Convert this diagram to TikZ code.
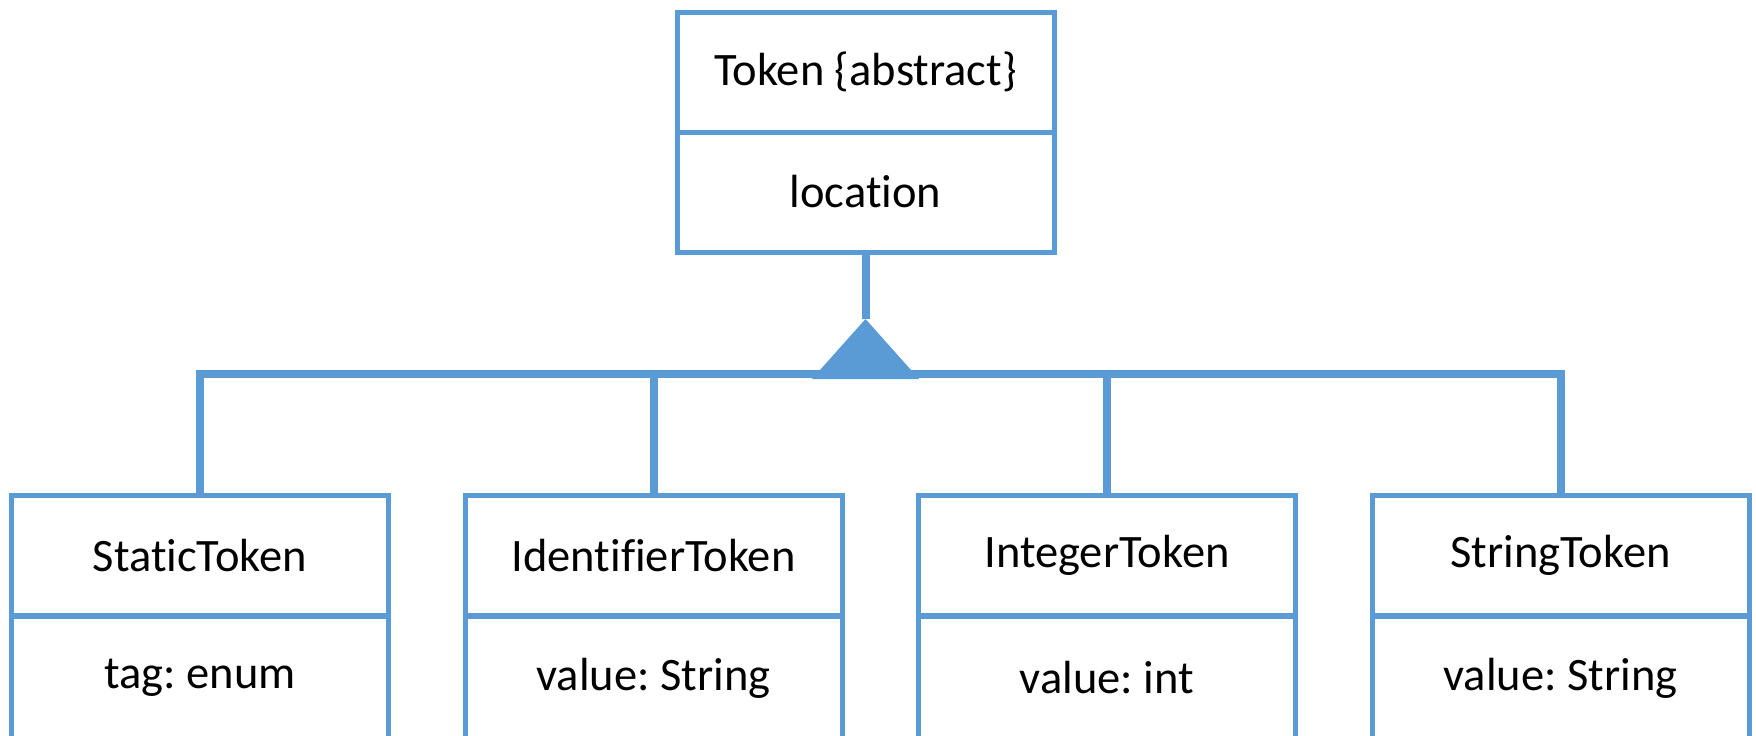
\documentclass[tikz,border=0pt]{standalone}
\usepackage{fontspec}
\setmainfont{Carlito}[Ligatures={NoCommon}]
\definecolor{umlblue}{HTML}{5B9BD5}
\frenchspacing
\begin{document}
\begin{tikzpicture}[x=1pt,y=-1pt,
  compartment/.style={draw=umlblue, line width=5pt, rectangle, inner sep=0pt,
    minimum width=377pt, font=\fontsize{46.5}{50}\selectfont, text=black},
  namebox/.style={compartment, minimum height=120pt},
  attrbox/.style={compartment, minimum height=124pt},
  conn/.style={draw=umlblue, line width=8pt, line join=miter}]
\clip (0,0) rectangle (1756,736);
\fill[white] (0,0) rectangle (1756,736);

% abstract base class
\node[namebox] (tokenName) at (865.5,72) {Token \{abstract\}};
\node[namebox] (tokenAttr) at (865.5,192) {location};

% concrete subclasses
\node[namebox] (staticName) at (200,555.5) {StaticToken};
\node[attrbox] (staticAttr) at (200,678) {tag: enum};
\node[namebox] (identName) at (653.5,555.5) {IdentifierToken};
\node[attrbox] (identAttr) at (653.5,678) {value: String};
\node[namebox] (intName) at (1107,555.5) {IntegerToken};
\node[attrbox] (intAttr) at (1107,678) {value: int};
\node[namebox] (strName) at (1560.5,555.5) {StringToken};
\node[attrbox] (strAttr) at (1560.5,678) {value: String};

% generalization: shared bar with a filled triangle
\coordinate (apex) at (865.5,319);
\coordinate (junction) at (865.5,374);
\coordinate (baseL) at (812,379);
\coordinate (baseR) at (919,379);

\draw[conn] (staticName.north) |- (junction) -| (strName.north);
\draw[conn] (identName.north) -- (identName.north |- junction);
\draw[conn] (intName.north) -- (intName.north |- junction);
\draw[conn] (tokenAttr.south) -- (apex);
\fill[umlblue] (apex) -- (baseR) -- (baseL) -- cycle;
\end{tikzpicture}
\end{document}
